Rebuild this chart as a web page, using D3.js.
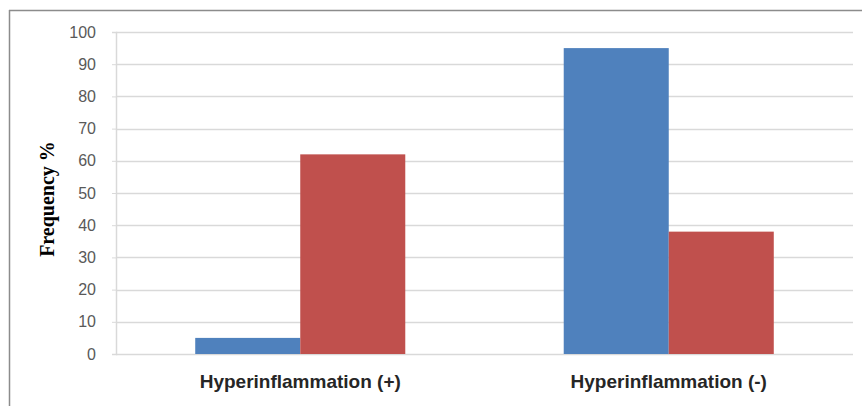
<!DOCTYPE html>
<html><head><meta charset="utf-8">
<script src="https://cdn.jsdelivr.net/npm/d3@7"></script>
<style>html,body{margin:0;padding:0;background:#fff;}</style>
</head><body>
<svg id="chart" width="862" height="406"></svg>
<script>
const categories = ["Hyperinflammation (+)", "Hyperinflammation (-)"];
const seriesNames = ["Series A", "Series B"];
const seriesA = [5, 95];
const seriesB = [62, 38];
const yTicks = [0, 10, 20, 30, 40, 50, 60, 70, 80, 90, 100];
const yTitle = "Frequency %";
const colors = ["#4f81bd", "#c0504d"];

const svg = d3.select("#chart");
const margin = {left: 116, right: 9, top: 32, bottom: 52};
const W = 862, H = 406;
const innerW = W - margin.left - margin.right;
const innerH = H - margin.top - margin.bottom;

// outer frame (top and left visible)
svg.append("line").attr("x1", 9).attr("x2", W).attr("y1", 10.5).attr("y2", 10.5).attr("stroke", "#8c8c8c").attr("stroke-width", 1.5);
svg.append("line").attr("x1", 9.5).attr("x2", 9.5).attr("y1", 10).attr("y2", H).attr("stroke", "#8c8c8c").attr("stroke-width", 1.5);

const g = svg.append("g").attr("transform", `translate(${margin.left},${margin.top})`);

const x0 = d3.scaleBand().domain(categories).range([0, innerW]).paddingInner(0.43).paddingOuter(0.215);
const x1 = d3.scaleBand().domain(seriesNames).range([0, x0.bandwidth()]).padding(0);
const y = d3.scaleLinear().domain([0, 100]).range([innerH, 0]);

// gridlines
g.append("g").selectAll("line").data(yTicks).join("line")
  .attr("x1", 0).attr("x2", innerW)
  .attr("y1", d => Math.round(y(d)) + 0.5).attr("y2", d => Math.round(y(d)) + 0.5)
  .attr("stroke", "#d9d9d9").attr("stroke-width", 1.5);

// y axis
const yAxis = g.append("g").call(d3.axisLeft(y).tickValues(yTicks).tickSize(4).tickPadding(16));
yAxis.select(".domain").attr("stroke", "#d9d9d9").attr("stroke-width", 1.5);
yAxis.selectAll(".tick line").attr("stroke", "#d9d9d9");
yAxis.selectAll("text").attr("fill", "#595959").style("font-family", "'Liberation Sans', Arial, sans-serif").style("font-size", "16px");

// bars
const rows = categories.map((c, i) => ({cat: c, vals: [seriesA[i], seriesB[i]]}));
g.append("g").selectAll("g").data(rows).join("g")
  .attr("transform", d => `translate(${x0(d.cat)},0)`)
  .selectAll("rect").data(d => d.vals.map((v, j) => ({v, s: seriesNames[j], j})))
  .join("rect")
  .attr("x", d => x1(d.s)).attr("width", x1.bandwidth())
  .attr("y", d => y(d.v)).attr("height", d => innerH - y(d.v))
  .attr("fill", d => colors[d.j]);

// x labels
g.append("g").selectAll("text").data(categories).join("text")
  .attr("x", d => x0(d) + x0.bandwidth() / 2)
  .attr("y", innerH + 34)
  .attr("text-anchor", "middle")
  .attr("fill", "#262626")
  .style("font-family", "'Liberation Sans', Arial, sans-serif")
  .style("font-weight", "bold").style("font-size", "19px")
  .text(d => d);

// y title
svg.append("text")
  .attr("transform", "translate(54,199) rotate(-90)")
  .attr("text-anchor", "middle")
  .attr("fill", "#000")
  .style("font-family", "'Liberation Serif', 'Times New Roman', serif")
  .style("font-weight", "bold").style("font-size", "20px")
  .text(yTitle);
</script>
</body></html>
